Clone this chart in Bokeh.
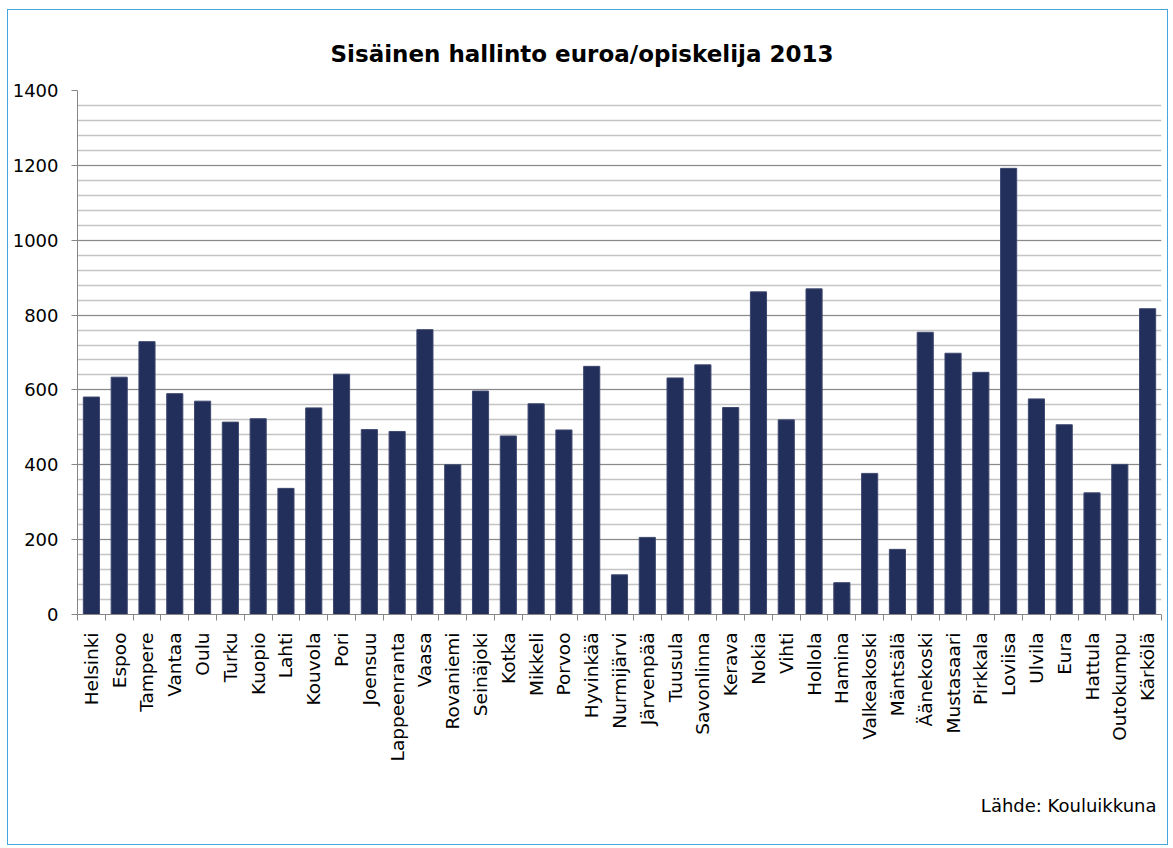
from math import pi
from bokeh.plotting import figure
from bokeh.models import (Range1d, SingleIntervalTicker, FixedTicker, LinearAxis,
                          CustomJSTickFormatter, Title)
from bokeh.embed import file_html
from bokeh.resources import INLINE

cities = ["Helsinki", "Espoo", "Tampere", "Vantaa", "Oulu", "Turku", "Kuopio", "Lahti",
          "Kouvola", "Pori", "Joensuu", "Lappeenranta", "Vaasa", "Rovaniemi", "Seinäjoki",
          "Kotka", "Mikkeli", "Porvoo", "Hyvinkää", "Nurmijärvi", "Järvenpää", "Tuusula",
          "Savonlinna", "Kerava", "Nokia", "Vihti", "Hollola", "Hamina", "Valkeakoski",
          "Mäntsälä", "Äänekoski", "Mustasaari", "Pirkkala", "Loviisa", "Ulvila", "Eura",
          "Hattula", "Outokumpu", "Kärkölä"]
values = [581, 634, 729, 590, 570, 514, 523, 337,
          552, 642, 494, 489, 761, 400, 597,
          477, 563, 493, 663, 106, 206, 632,
          667, 553, 862, 520, 870, 85, 377,
          174, 754, 698, 647, 1192, 576, 507,
          325, 401, 817]

title_text = "Sisäinen hallinto euroa/opiskelija 2013"
source_text = "Lähde: Kouluikkuna"
y_max = 1400
y_step = 200

n = len(cities)
idx = list(range(n))

p = figure(x_range=Range1d(-0.5, n - 0.5), y_range=Range1d(0, y_max), width=1161, height=836,
           output_backend="svg", toolbar_location=None, x_axis_location=None,
           min_border_left=69, min_border_right=8, min_border_top=80, min_border_bottom=232)
p.outline_line_color = None
p.background_fill_color = "white"
p.border_fill_color = "white"
p.styles = {"border": "1px solid #45A5DD", "margin-left": "7px", "margin-top": "9px"}

p.vbar(x=idx, top=values, width=0.58, fill_color="#232F5B", line_color="#3E4870", line_width=1)

# y axis
yax = p.yaxis[0]
yax.ticker = SingleIntervalTicker(interval=y_step, num_minor_ticks=5)
yax.axis_line_color = "#868686"
yax.major_tick_line_color = "#868686"
yax.major_tick_out = 6
yax.major_tick_in = 0
yax.minor_tick_line_color = None
yax.major_label_text_font = "DejaVu Sans"
yax.major_label_text_font_size = "18px"
yax.major_label_text_color = "black"
yax.major_label_standoff = 13

p.ygrid.ticker = yax.ticker
p.ygrid.grid_line_color = "#8A8A8A"
p.ygrid.minor_grid_line_color = "#C4C4C4"
p.ygrid.minor_grid_line_width = 1.5
p.xgrid.grid_line_color = None

# x axis: ticks at category boundaries, labels at category centres
tick_axis = LinearAxis(ticker=FixedTicker(ticks=[i - 0.5 for i in range(n + 1)]),
                       formatter=CustomJSTickFormatter(code="return ''"),
                       axis_line_color="#868686", major_tick_line_color="#868686",
                       major_tick_out=6, major_tick_in=0, minor_tick_line_color=None,
                       major_label_standoff=0, major_label_text_font_size="1px")
p.add_layout(tick_axis, "below")

label_axis = LinearAxis(ticker=FixedTicker(ticks=idx),
                        major_label_overrides={i: c for i, c in zip(idx, cities)},
                        axis_line_color=None, major_tick_line_color=None,
                        minor_tick_line_color=None,
                        major_label_orientation=pi / 2, major_label_standoff=6,
                        major_label_text_font="DejaVu Sans",
                        major_label_text_font_size="18.5px",
                        major_label_text_color="black")
p.add_layout(label_axis, "below")

# title
p.title.text = title_text
p.title.align = "left"
p.title.offset = 253
p.title.text_font = "DejaVu Sans"
p.title.text_font_style = "bold"
p.title.text_font_size = "23px"
p.title.text_color = "black"
p.title.standoff = 48

# source note
src = Title(text=source_text, align="right", text_font="DejaVu Sans", text_font_size="18px",
            text_font_style="normal", text_color="black", standoff=56, offset=5)
p.add_layout(src, "below")

open("out.html", "w").write(file_html(p, INLINE))
